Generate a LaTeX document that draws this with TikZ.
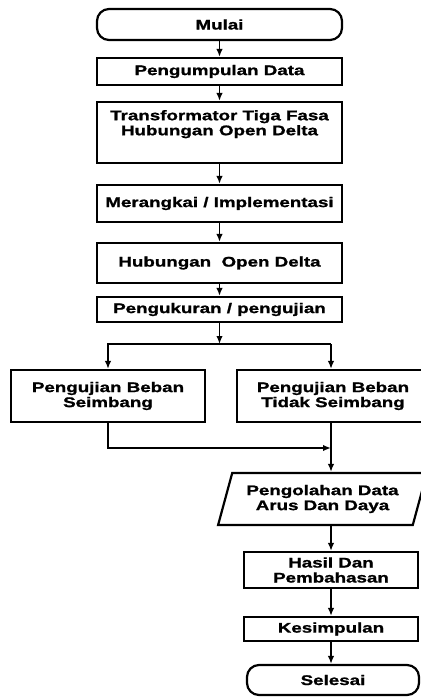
\documentclass[tikz,border=0pt]{standalone}
\usepackage{fontspec}
\newfontfamily\flowfont[FakeStretch=1.34,FakeBold=1.2]{Liberation Sans}
\usetikzlibrary{shapes.geometric,arrows.meta}

\begin{document}
\begin{tikzpicture}[x=1pt, y=1pt,
  proc/.style={draw, line width=2.2pt, align=center, inner sep=0pt, font=\flowfont\bfseries\fontsize{14}{15}\selectfont},
  term/.style={proc, rounded corners=12pt},
  io/.style={proc, trapezium, trapezium stretches=true, trapezium left angle=67, trapezium right angle=113},
  lbl/.style={align=center, inner sep=0pt, font=\flowfont\bfseries\fontsize{14}{15}\selectfont},
  flow/.style={line width=1.8pt, -{Latex[length=8pt,width=6.5pt]}}
]
\useasboundingbox (0,0) rectangle (420,-698);

\node[term, minimum width=245, minimum height=31] (mulai) at (219.5,-24.5) {Mulai};
\node[proc, minimum width=245, minimum height=27] (data) at (219.5,-71.5) {Pengumpulan Data};
\node[proc, minimum width=245, minimum height=61,
  label={[lbl, anchor=north, yshift=-9]north:Transformator Tiga Fasa\\Hubungan Open Delta}] (trafo) at (219.5,-132.5) {};
\node[proc, minimum width=245, minimum height=37] (rangkai) at (219.5,-203.5) {Merangkai / Implementasi};
\node[proc, minimum width=245, minimum height=40] (hub) at (219.5,-263) {Hubungan~ Open Delta};
\node[proc, minimum width=245, minimum height=25] (ukur) at (219.5,-309.5) {Pengukuran / pengujian};

\node[proc, minimum width=194, minimum height=52] (seimbang) at (108,-396) {Pengujian Beban\\Seimbang};
\node[proc, minimum width=192, minimum height=52] (tidak) at (333,-396) {Pengujian Beban\\Tidak Seimbang};

\node[io, minimum width=209, minimum height=52] (olah) at (322.5,-499) {Pengolahan Data\\Arus Dan Daya};
\node[proc, minimum width=174, minimum height=36] (hasil) at (331,-570) {Hasil Dan\\Pembahasan};
\node[proc, minimum width=174, minimum height=24] (simpul) at (331,-629) {Kesimpulan};
\node[term, minimum width=172, minimum height=30] (selesai) at (333,-680) {Selesai};

\coordinate (split) at (219.5,-344);
\coordinate (merge) at (331,-448);

\draw[flow] (mulai) -- (data);
\draw[flow] (data) -- (trafo);
\draw[flow] (trafo) -- (rangkai);
\draw[flow] (rangkai) -- (hub);
\draw[flow] (hub) -- (ukur);
\draw[flow] (ukur) -- (split);
\draw[flow] (split -| merge) -- (split -| seimbang) -- (seimbang);
\draw[flow] (split -| merge) -- (merge |- tidak.north);
\draw[flow] (seimbang) -- (seimbang |- merge) -- (merge);
\draw[flow] (merge |- tidak.south) -- (merge |- olah.north);
\draw[flow] (olah.south -| hasil) -- (hasil);
\draw[flow] (hasil) -- (simpul);
\draw[flow] (simpul) -- (simpul |- selesai.north);
\end{tikzpicture}
\end{document}
